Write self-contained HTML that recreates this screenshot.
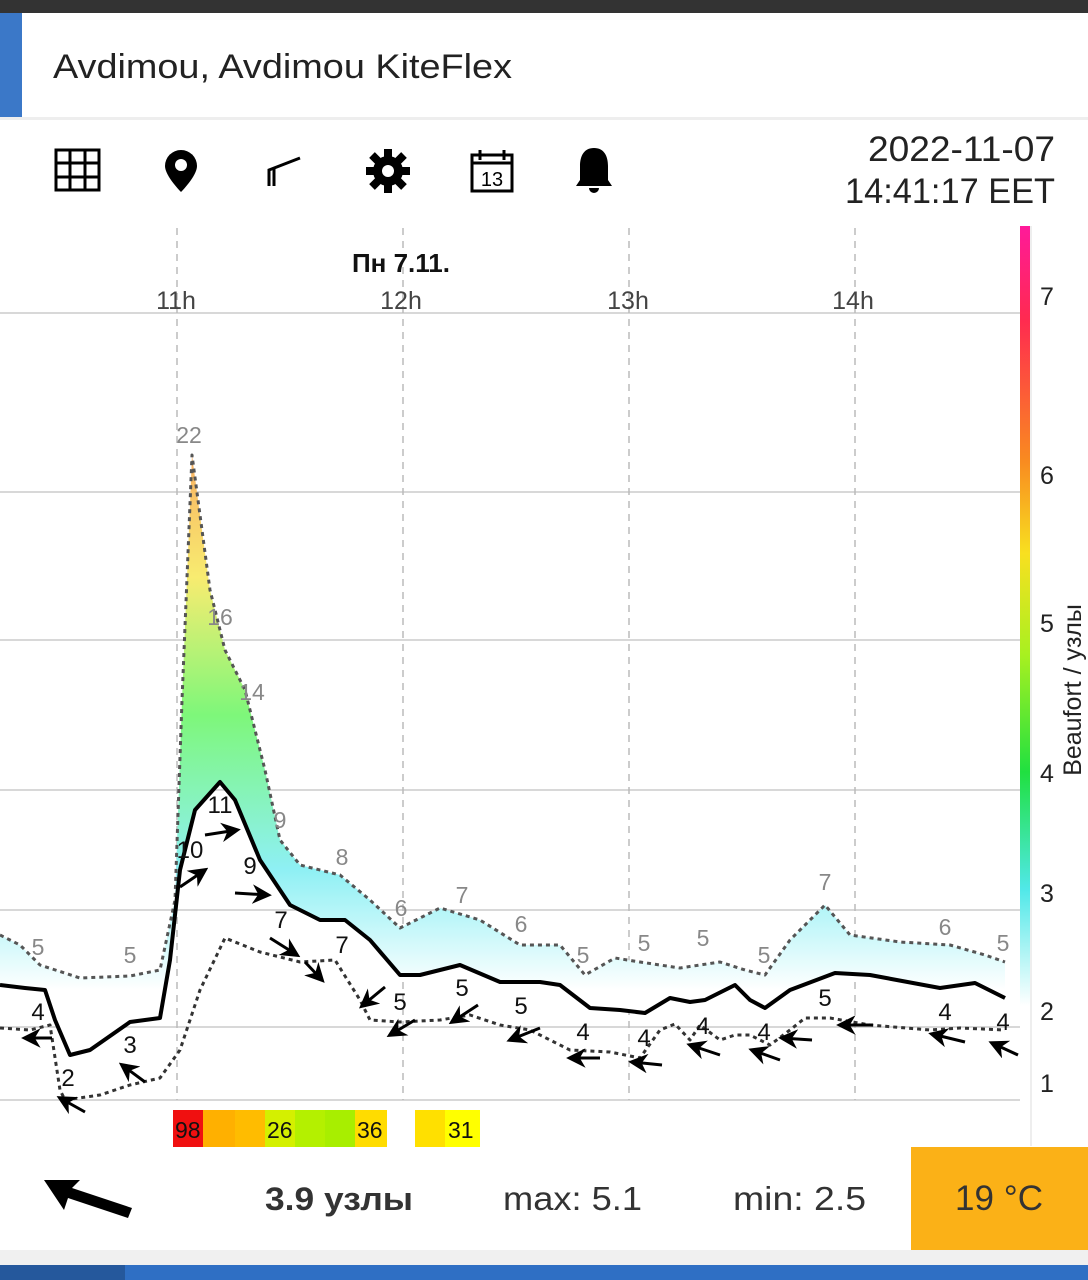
<!DOCTYPE html>
<html><head><meta charset="utf-8"><style>
body{margin:0;width:1088px;height:1280px;overflow:hidden;background:#fff;font-family:"Liberation Sans",sans-serif}
svg{display:block}
</style></head><body>
<svg width="1088" height="1280" viewBox="0 0 1088 1280" xmlns="http://www.w3.org/2000/svg" font-family="Liberation Sans, sans-serif">
<defs>
<linearGradient id="fg" gradientUnits="userSpaceOnUse" x1="0" y1="440" x2="0" y2="990">
<stop offset="0" stop-color="#f9a860"/><stop offset="0.25" stop-color="#f8ec70"/><stop offset="0.5" stop-color="#7ef77a"/><stop offset="0.78" stop-color="#8ef0f4"/><stop offset="1" stop-color="#ffffff"/>
</linearGradient>
<linearGradient id="cb" x1="0" y1="0" x2="0" y2="1">
<stop offset="0" stop-color="#ff1a9a"/><stop offset="0.12" stop-color="#ff2a50"/><stop offset="0.3" stop-color="#f98a20"/><stop offset="0.42" stop-color="#f8e020"/><stop offset="0.55" stop-color="#a8f020"/><stop offset="0.7" stop-color="#20e040"/><stop offset="0.85" stop-color="#50e8e8"/><stop offset="1" stop-color="#ffffff"/>
</linearGradient>
<marker id="ah" viewBox="0 0 10 10" refX="8" refY="5" markerWidth="6.5" markerHeight="6.5" orient="auto"><path d="M0,0 L10,5 L0,10 L3,5z" fill="#000"/></marker>
</defs>
<rect x="0" y="0" width="1088" height="13" fill="#333"/>
<rect x="0" y="13" width="22" height="104" fill="#3b78c8"/>
<text x="53" y="78" font-size="34" fill="#222" textLength="459" lengthAdjust="spacingAndGlyphs">Avdimou, Avdimou KiteFlex</text>
<rect x="0" y="117" width="1088" height="3" fill="#eee"/>
<g stroke="#000" stroke-width="3" fill="none">
<rect x="56" y="150" width="43" height="40"/><path d="M70,150V190M85,150V190M56,163H99M56,177H99"/>
<path d="M269,186V170L300,158M274,186V168"/>
<rect x="472" y="155" width="40" height="36"/><path d="M480,150V160M504,150V160M472,163H512"/>
</g>
<path d="M181,150a16,16 0 0 1 16,16c0,10-16,26-16,26s-16-16-16-26a16,16 0 0 1 16-16z" fill="#000"/><circle cx="181" cy="165" r="6" fill="#fff"/>
<g fill="#000"><circle cx="388" cy="171" r="15"/><g stroke="#000" stroke-width="8"><path d="M388,149V193M366,171H410M372,155L404,187M404,155L372,187"/></g></g><circle cx="388" cy="171" r="6" fill="#fff"/>
<text x="492" y="186" font-size="20" text-anchor="middle" fill="#000">13</text>
<path d="M594,148c-10,0-14,8-14,18v14l-4,6h36l-4-6v-14c0-10-4-18-14-18z M589,188h10a5,5 0 0 1-10,0z" fill="#000"/>
<text x="868" y="161" font-size="35" fill="#222" textLength="187" lengthAdjust="spacingAndGlyphs">2022-11-07</text>
<text x="845" y="203" font-size="35" fill="#222" textLength="210" lengthAdjust="spacingAndGlyphs">14:41:17 EET</text>
<g stroke="#ccc" stroke-width="1.5"><path d="M0,313H1020M0,492H1020M0,640H1020M0,790H1020M0,910H1020M0,1027H1020M0,1100H1020"/></g>
<g stroke="#bbb" stroke-width="1.5" stroke-dasharray="7,6"><path d="M177,228V1100M403,228V1100M629,228V1100M855,228V1100"/></g>
<text x="401" y="272" font-size="26" font-weight="bold" text-anchor="middle" fill="#111">Пн 7.11.</text>
<g font-size="25" fill="#444" text-anchor="middle"><text x="176" y="309">11h</text><text x="401" y="309">12h</text><text x="628" y="309">13h</text><text x="853" y="309">14h</text></g>
<rect x="1020" y="226" width="10" height="780" fill="url(#cb)"/>
<rect x="1030" y="226" width="2" height="920" fill="#eee"/>
<g font-size="25" fill="#222"><text x="1040" y="305">7</text><text x="1040" y="484">6</text><text x="1040" y="632">5</text><text x="1040" y="782">4</text><text x="1040" y="902">3</text><text x="1040" y="1020">2</text><text x="1040" y="1092">1</text></g>
<text transform="translate(1081,690) rotate(-90)" font-size="25" text-anchor="middle" fill="#222">Beaufort / узлы</text>
<path fill="url(#fg)" d="M0,935 L20,945 L40,965 L80,978 L130,976 L160,970 L175,900 L182,700 L192,455 L210,590 L225,650 L245,690 L265,770 L280,840 L300,865 L340,875 L370,900 L400,928 L440,908 L480,920 L520,945 L560,945 L585,975 L615,958 L640,962 L680,968 L720,962 L745,970 L765,975 L790,940 L825,905 L850,935 L900,942 L950,945 L985,955 L1005,962 L1005,998 L975,983 L940,988 L870,975 L835,973 L790,990 L765,1008 L750,1000 L735,985 L705,1000 L690,1002 L670,998 L645,1013 L620,1010 L590,1008 L560,985 L540,982 L500,982 L460,965 L420,975 L400,975 L370,940 L345,920 L320,920 L290,905 L260,860 L235,800 L220,782 L195,810 L180,870 L170,960 L160,1018 L130,1022 L90,1050 L70,1055 L55,1020 L45,990 L25,988 L0,985Z"/>
<polyline fill="none" stroke="#555" stroke-width="3" stroke-dasharray="4,4" stroke-linejoin="round" points="0,935 20,945 40,965 80,978 130,976 160,970 175,900 182,700 192,455 210,590 225,650 245,690 265,770 280,840 300,865 340,875 370,900 400,928 440,908 480,920 520,945 560,945 585,975 615,958 640,962 680,968 720,962 745,970 765,975 790,940 825,905 850,935 900,942 950,945 985,955 1005,962"/>
<polyline fill="none" stroke="#000" stroke-width="4" stroke-linejoin="round" points="0,985 25,988 45,990 55,1020 70,1055 90,1050 130,1022 160,1018 170,960 180,870 195,810 220,782 235,800 260,860 290,905 320,920 345,920 370,940 400,975 420,975 460,965 500,982 540,982 560,985 590,1008 620,1010 645,1013 670,998 690,1002 705,1000 735,985 750,1000 765,1008 790,990 835,973 870,975 940,988 975,983 1005,998"/>
<polyline fill="none" stroke="#333" stroke-width="3" stroke-dasharray="4,4" stroke-linejoin="round" points="0,1028 30,1030 50,1025 60,1090 65,1100 100,1095 130,1085 160,1078 180,1050 200,990 225,938 260,952 300,962 335,960 360,1000 370,1020 400,1022 440,1020 470,1015 500,1025 530,1030 570,1050 610,1052 640,1058 660,1030 675,1024 690,1040 700,1025 720,1040 735,1035 750,1035 770,1045 790,1030 805,1018 830,1018 870,1025 930,1030 960,1028 1005,1030"/>
<g font-size="23" fill="#888" text-anchor="middle"><text x="189" y="443">22</text><text x="220" y="625">16</text><text x="252" y="700">14</text><text x="280" y="828">9</text><text x="342" y="865">8</text><text x="401" y="916">6</text><text x="462" y="903">7</text><text x="521" y="932">6</text><text x="583" y="963">5</text><text x="644" y="951">5</text><text x="703" y="946">5</text><text x="764" y="963">5</text><text x="825" y="890">7</text><text x="945" y="935">6</text><text x="1003" y="951">5</text><text x="38" y="955">5</text><text x="130" y="963">5</text></g>
<g font-size="24" fill="#111" text-anchor="middle"><text x="38" y="1020">4</text><text x="130" y="1053">3</text><text x="190" y="858">10</text><text x="220" y="813">11</text><text x="250" y="874">9</text><text x="281" y="928">7</text><text x="342" y="953">7</text><text x="400" y="1010">5</text><text x="462" y="996">5</text><text x="521" y="1014">5</text><text x="583" y="1040">4</text><text x="644" y="1046">4</text><text x="703" y="1034">4</text><text x="764" y="1040">4</text><text x="825" y="1006">5</text><text x="945" y="1020">4</text><text x="1003" y="1030">4</text><text x="68" y="1086">2</text></g>
<g stroke="#000" stroke-width="3" marker-end="url(#ah)">
<line x1="52" y1="1038" x2="25" y2="1038"/><line x1="145" y1="1082" x2="122" y2="1065"/><line x1="85" y1="1112" x2="60" y2="1098"/>
<line x1="180" y1="887" x2="205" y2="870"/><line x1="205" y1="835" x2="237" y2="830"/><line x1="235" y1="893" x2="268" y2="895"/>
<line x1="270" y1="938" x2="297" y2="955"/><line x1="305" y1="962" x2="322" y2="980"/><line x1="385" y1="987" x2="362" y2="1006"/>
<line x1="415" y1="1020" x2="390" y2="1035"/><line x1="478" y1="1005" x2="452" y2="1022"/><line x1="540" y1="1028" x2="510" y2="1040"/>
<line x1="600" y1="1058" x2="570" y2="1058"/><line x1="662" y1="1065" x2="632" y2="1062"/><line x1="720" y1="1055" x2="690" y2="1045"/>
<line x1="780" y1="1060" x2="752" y2="1050"/><line x1="812" y1="1040" x2="782" y2="1038"/><line x1="873" y1="1025" x2="840" y2="1025"/>
<line x1="965" y1="1042" x2="932" y2="1034"/><line x1="1018" y1="1055" x2="992" y2="1043"/>
</g>
<rect x="173" y="1110" width="30" height="37" fill="#f01010"/><rect x="203" y="1110" width="32" height="37" fill="#ffb000"/><rect x="235" y="1110" width="30" height="37" fill="#ffbc00"/><rect x="265" y="1110" width="30" height="37" fill="#d4f000"/><rect x="295" y="1110" width="30" height="37" fill="#b4f000"/><rect x="325" y="1110" width="30" height="37" fill="#a8ee00"/><rect x="355" y="1110" width="32" height="37" fill="#ffdc00"/>
<rect x="415" y="1110" width="30" height="37" fill="#ffe000"/><rect x="445" y="1110" width="35" height="37" fill="#ffff00"/>
<g font-size="23" fill="#111"><text x="175" y="1138">98</text><text x="267" y="1138">26</text><text x="357" y="1138">36</text><text x="448" y="1138">31</text></g>
<path d="M44,1180 L80,1180 L72,1188 L132,1208 L128,1218 L68,1198 L64,1210Z" fill="#000"/>
<text x="265" y="1210" font-size="32" font-weight="bold" fill="#333" textLength="148" lengthAdjust="spacingAndGlyphs">3.9 узлы</text>
<text x="503" y="1210" font-size="33" fill="#333" textLength="139" lengthAdjust="spacingAndGlyphs">max: 5.1</text>
<text x="733" y="1210" font-size="33" fill="#333" textLength="133" lengthAdjust="spacingAndGlyphs">min: 2.5</text>
<rect x="911" y="1147" width="177" height="103" fill="#fbb117"/>
<text x="955" y="1210" font-size="35" fill="#333" textLength="88" lengthAdjust="spacingAndGlyphs">19 °C</text>
<rect x="0" y="1250" width="1088" height="15" fill="#f0f0f0"/>
<rect x="0" y="1265" width="1088" height="15" fill="#2f6fc4"/><rect x="0" y="1265" width="125" height="15" fill="#25589c"/>
</svg>
</body></html>
